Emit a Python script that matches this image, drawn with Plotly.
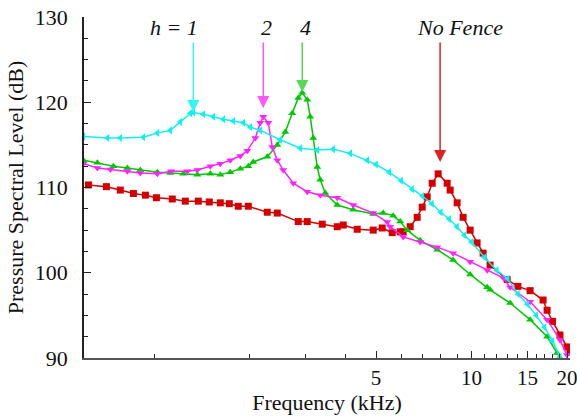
import numpy as np
import plotly.graph_objects as go

# ---- data (frequency in kHz, pressure spectral level in dB) ----
freq_h1 = [0.597, 0.711, 0.781, 0.923, 1.022, 1.123, 1.208, 1.298, 1.327, 1.427, 1.534, 1.65,
           1.774, 1.907, 2.006, 2.158, 2.494, 2.884, 3.263, 3.664, 4.145, 4.69, 5.0, 5.5, 6.0,
           6.5, 7.0, 7.5, 8.0, 8.5, 9.0, 9.5, 10.0, 11.0, 12.0, 13.0, 14.0, 15.0, 16.0, 17.0,
           18.0, 19.0, 19.5]
spl_h1 = [116.0, 115.8, 115.8, 115.9, 116.4, 116.7, 117.7, 118.7, 118.8, 118.6, 118.3, 118.0,
          117.8, 117.6, 117.1, 116.7, 115.6, 114.6, 114.4, 114.5, 114.0, 113.2, 112.7, 111.8, 110.8,
          109.8, 109.0, 108.1, 107.1, 106.3, 105.4, 104.4, 103.6, 101.8, 100.3, 99.3, 97.5, 96.3,
          95.0, 93.6, 92.0, 90.1, 89.5]

freq_h2 = [0.597, 0.661, 0.727, 0.822, 0.903, 1.022, 1.13, 1.27, 1.366, 1.501, 1.614, 1.735,
           1.866, 1.963, 2.081, 2.158, 2.205, 2.287, 2.354, 2.441, 2.549, 2.741, 3.034, 3.334,
           3.772, 4.236, 4.898, 5.422, 5.541, 6.088, 6.889, 7.793, 8.75, 9.9, 11.2, 12.58,
           13.23, 15.3, 17.31, 19.02, 20.0]
spl_h2 = [112.8, 112.3, 112.1, 111.9, 111.7, 111.6, 111.9, 111.9, 112.05, 112.5, 112.8, 113.2,
          113.7, 114.3, 115.8, 117.6, 118.3, 117.6, 114.75, 113.2, 112.05, 110.5, 109.5, 109.1,
          108.8, 107.95, 107.0, 105.95, 105.4, 104.2, 103.6, 103.0, 102.3, 101.3, 100.3, 99.4,
          98.3, 96.6, 94.5, 92.1, 90.35]

freq_h4 = [0.597, 0.661, 0.743, 0.822, 0.903, 1.022, 1.123, 1.234, 1.366, 1.501, 1.614, 1.735,
           1.866, 1.978, 2.05, 2.27, 2.441, 2.587, 2.721, 2.842, 2.926, 3.034, 3.101, 3.17,
           3.263, 3.334, 3.457, 3.772, 4.236, 4.898, 5.266, 5.662, 5.957, 6.268, 6.889, 7.793,
           8.75, 9.9, 11.2, 11.44, 13.23, 15.3, 17.31, 18.61, 19.02]
spl_h4 = [113.2, 112.9, 112.5, 112.3, 112.05, 111.8, 111.7, 111.6, 111.5, 111.6, 111.5, 111.8,
          112.2, 112.5, 113.0, 113.6, 115.0, 116.5, 118.7, 120.5, 121.1, 120.3, 118.3, 115.8,
          112.4, 110.9, 109.35, 107.95, 107.4, 106.9, 107.0, 106.7, 106.0, 105.0, 103.8, 102.7,
          101.5, 99.8, 98.3, 98.0, 96.45, 94.5, 92.5, 90.6, 90.0]

freq_nf = [0.62, 0.706, 0.781, 0.859, 0.937, 1.015, 1.139, 1.252, 1.376, 1.49, 1.614, 1.723,
           1.839, 1.978, 2.27, 2.441, 2.842, 3.034, 3.383, 3.772, 3.94, 4.361, 4.898, 5.228,
           5.622, 5.957, 6.088, 6.406, 6.74, 6.99, 7.248, 7.516, 7.85, 8.379, 8.564, 9.009,
           9.408, 9.9, 10.41, 10.88, 11.44, 12.95, 14.0, 15.3, 16.81, 17.31, 18.0, 19.0, 20.0,
           20.44]
spl_nf = [110.3, 110.1, 109.7, 109.3, 109.1, 108.8, 108.65, 108.4, 108.4, 108.3, 108.2, 108.1,
          107.8, 107.8, 107.1, 107.0, 106.0, 106.0, 105.7, 105.4, 105.6, 105.1, 105.0, 105.25,
          104.7, 104.8, 104.8, 105.4, 106.5, 107.7, 108.9, 110.5, 111.6, 110.5, 109.7, 108.2,
          106.5, 105.0, 103.5, 102.3, 100.9, 99.2, 98.4, 97.9, 96.8, 95.6, 94.3, 92.7, 91.3,
          90.7]

x_tick_vals = [5, 10, 15, 20]
x_tick_text = ["5", "10", "15", "20"]
x_minor_vals = [1, 2, 3, 4, 6, 7, 8, 9, 11, 12, 13, 14, 16, 17, 18, 19]

# label annotations: (text, arrow-tip frequency, arrow-tip level, colour, text x-shift)
labels = [
    ("<i>h = 1</i>", 1.327, 118.86, "#33f5f5", -19),
    ("<i>2</i>", 2.205, 119.33, "#ff55ff", 3),
    ("<i>4</i>", 2.926, 121.2, "#55d855", 3),
    ("<i>No Fence</i>", 7.96, 112.99, "#dd2222", 20),
]

FONT = "Liberation Serif, Times New Roman, Times, serif"

fig = go.Figure()
series = [
    (freq_nf, spl_nf, "No Fence", "#d40000", "square", 7),
    (freq_h4, spl_h4, "h = 4", "#00c800", "triangle-up", 7),
    (freq_h2, spl_h2, "h = 2", "#ff22ff", "triangle-down", 7),
    (freq_h1, spl_h1, "h = 1", "#11f0f0", "triangle-left", 7),
]
for fx, fy, name, col, sym, ms in series:
    fig.add_trace(go.Scatter(
        x=fx, y=fy, name=name, mode="lines+markers",
        line=dict(color=col, width=1.5),
        marker=dict(symbol=sym, size=ms, color=col),
    ))

for text, f, lvl, col, xs in labels:
    tip_px = (130 - lvl) * 8.525  # pixels below the top of the axis
    fig.add_annotation(x=np.log10(f), y=lvl, xref="x", yref="y", text="",
                       showarrow=True, ax=0, ay=-(tip_px - 24), axref="pixel", ayref="pixel",
                       arrowcolor=col, arrowwidth=1.5, arrowhead=2, arrowsize=1.6,
                       standoff=0)
    fig.add_annotation(x=np.log10(f), y=128.8, xref="x", yref="y", text=text,
                       showarrow=False, xshift=xs, font=dict(family=FONT, size=22, color="#111"))

fig.update_layout(
    width=577, height=416,
    margin=dict(l=84, r=7, t=17, b=58, autoexpand=False),
    plot_bgcolor="white", paper_bgcolor="white",
    showlegend=False,
    font=dict(family=FONT, size=20, color="#111"),
)
fig.update_xaxes(
    type="log", range=[np.log10(0.6), np.log10(20.44)],
    automargin=False,
    tickmode="array", tickvals=x_tick_vals, ticktext=x_tick_text,
    ticks="inside", ticklen=7, tickwidth=1.2, tickcolor="#222",
    minor=dict(tickmode="array", tickvals=x_minor_vals, ticks="inside", ticklen=4,
               tickwidth=1.2, tickcolor="#222", showgrid=False),
    showline=True, linecolor="#555", linewidth=1.8,
    showgrid=False, zeroline=False,
    ticklabeloverflow="allow",
    tickfont=dict(family=FONT, size=21, color="#111"),
    title=dict(text="Frequency (kHz)", font=dict(family=FONT, size=22, color="#111"), standoff=5),
)
fig.update_yaxes(
    range=[90, 130], tickmode="linear", tick0=90, dtick=10,
    automargin=False,
    ticks="inside", ticklen=7, tickwidth=1.2, tickcolor="#222",
    minor=dict(tick0=90, dtick=2.5, ticks="inside", ticklen=4, tickwidth=1.2,
               tickcolor="#222", showgrid=False),
    showline=True, linecolor="#222", linewidth=1.5,
    showgrid=False, zeroline=False,
    tickfont=dict(family=FONT, size=22, color="#111"),
    ticklabelstandoff=10,
    title=dict(text="Pressure Spectral Level (dB)", font=dict(family=FONT, size=22, color="#111"), standoff=5),
)

fig.write_html("out.html")
